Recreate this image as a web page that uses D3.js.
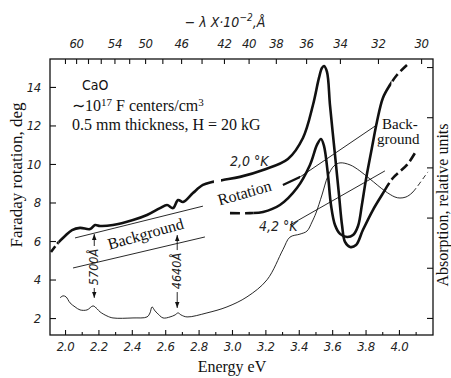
<!DOCTYPE html>
<html>
<head>
<meta charset="utf-8">
<script src="https://cdn.jsdelivr.net/npm/d3@7"></script>
<style>
  body { margin: 0; background: #fff; }
  svg { display: block; }
  .tick text { font-family: "DejaVu Sans Condensed", "DejaVu Sans", sans-serif; font-style: italic; font-size: 13px; fill: #222; letter-spacing: -0.3px; }
  .tick line { stroke: #111; stroke-width: 1.1; }
  .serif { font-family: "Liberation Serif", "Times New Roman", serif; fill: #111; }
  .ital { font-family: "DejaVu Sans Condensed", "DejaVu Sans", sans-serif; font-style: italic; fill: #222; }
</style>
</head>
<body>
<div id="chart"></div>
<script>
// Faraday rotation (deg) vs photon energy (eV)
const rot20K = [
  [1.916, 5.43], [1.958, 5.90], [2.000, 6.26], [2.042, 6.57], [2.090, 6.68],
  [2.150, 6.62], [2.180, 6.83], [2.210, 6.78], [2.287, 6.83], [2.407, 7.09],
  [2.491, 7.35], [2.569, 7.71], [2.611, 7.87], [2.647, 7.71], [2.677, 8.13],
  [2.707, 8.03], [2.766, 8.49], [2.826, 8.91], [2.880, 9.06], [2.946, 9.17],
  [3.048, 9.33], [3.186, 9.69], [3.335, 10.26], [3.425, 11.35], [3.485, 13.06],
  [3.521, 14.47], [3.539, 14.99], [3.551, 15.09], [3.569, 14.78], [3.587, 13.06],
  [3.617, 10.47], [3.641, 8.39], [3.659, 6.83], [3.677, 5.95], [3.707, 5.69],
  [3.743, 5.79], [3.784, 6.57], [3.844, 7.61], [3.898, 8.39], [3.964, 9.27],
  [4.048, 9.95], [4.096, 10.57]
];
const rot42K = [
  [2.988, 7.45], [3.108, 7.45], [3.186, 7.51], [3.287, 7.87], [3.389, 8.75],
  [3.467, 9.95], [3.509, 10.99], [3.533, 11.30], [3.551, 10.94], [3.575, 9.42],
  [3.593, 7.87], [3.617, 6.83], [3.647, 6.37], [3.689, 6.21], [3.725, 6.31],
  [3.755, 6.78], [3.778, 7.87], [3.802, 9.17], [3.838, 10.83], [3.868, 12.18],
  [3.904, 13.43], [3.946, 14.10], [3.988, 14.62], [4.048, 15.14]
];
// absorption (relative units) vs energy
const absorption = [
  [1.970, 0.40], [1.988, 0.44], [2.006, 0.42], [2.030, 0.30], [2.060, 0.22],
  [2.090, 0.16], [2.132, 0.16], [2.168, 0.24], [2.192, 0.18], [2.210, 0.12],
  [2.251, 0.04], [2.287, 0.00], [2.407, 0.00], [2.491, 0.02], [2.509, 0.10],
  [2.521, 0.22], [2.539, 0.14], [2.551, 0.10], [2.587, 0.00], [2.629, 0.02],
  [2.659, 0.06], [2.677, 0.10], [2.695, 0.06], [2.731, 0.02], [2.850, 0.10],
  [2.970, 0.22], [3.090, 0.42], [3.210, 0.76], [3.305, 1.36], [3.347, 1.61],
  [3.407, 1.67], [3.449, 1.73], [3.479, 1.91], [3.503, 2.09], [3.539, 2.45],
  [3.575, 2.83], [3.611, 3.03], [3.647, 3.09], [3.707, 3.05], [3.766, 2.93],
  [3.826, 2.77], [3.916, 2.53], [3.976, 2.41], [4.006, 2.39], [4.042, 2.41],
  [4.078, 2.49], [4.108, 2.61], [4.156, 2.83], [4.174, 2.91]
];
// background lines (rotation units)
const bgUpper = [[2.060, 6.16], [2.826, 7.81]];
const bgUpperRight = [[3.305, 8.91], [3.407, 9.32], [3.868, 12.03]];
const bgLower = [[2.048, 4.60], [2.838, 6.21]];
const bgLowerRight = [[3.347, 6.83], [3.916, 9.64]];

// marked wavelengths (Å): arrow tips in rotation / absorption units, label centre in rotation units
const marks = [
  { lambda: 5700, up: 6.36, down: 0.40, mid: 4.65 },
  { lambda: 4640, up: 6.31, down: 0.20, mid: 4.44 }
];

const energyTicks = [2.0, 2.2, 2.4, 2.6, 2.8, 3.0, 3.2, 3.4, 3.6, 3.8, 4.0];
const energyMinor = [2.1, 2.3, 2.5, 2.7, 2.9, 3.1, 3.3, 3.5, 3.7, 3.9, 4.1];
const rotationTicks = [2, 4, 6, 8, 10, 12, 14];
const absorptionTicks = [0, 1, 2, 3, 4, 5];
const lambdaTicks = [62, 60, 58, 56, 54, 52, 50, 48, 46, 44, 42, 40, 38, 36, 34, 32, 30];
const lambdaLabels = [60, 54, 50, 46, 42, 40, 38, 36, 34, 32, 30];

const HC = 12398; // eV·Å
const W = 451, H = 378;

const svg = d3.select("#chart").append("svg").attr("width", W).attr("height", H);

const x = d3.scaleLinear().domain([1.91, 4.204]).range([50, 433]);
const yL = d3.scaleLinear().domain([1.12, 15.45]).range([335, 59]);
const yR = d3.scaleLinear().domain([-0.34, 5.16]).range([335, 59]);

// axes
svg.append("g").attr("transform", "translate(0,335)")
  .call(d3.axisBottom(x).tickValues(energyTicks).tickSize(-5).tickPadding(7).tickFormat(d3.format(".1f")));
svg.append("g").attr("transform", "translate(0,335)")
  .call(d3.axisBottom(x).tickValues(energyMinor).tickSize(-3).tickFormat(""));
svg.append("g").attr("transform", "translate(50,0)")
  .call(d3.axisLeft(yL).tickValues(rotationTicks).tickSize(-6).tickPadding(9));
svg.append("g").attr("transform", "translate(433,0)")
  .call(d3.axisRight(yR).tickValues(absorptionTicks).tickSize(-6).tickFormat(""));
svg.append("g").attr("transform", "translate(0,59)")
  .call(d3.axisTop(x)
    .tickValues(lambdaTicks.map((l) => HC / (l * 100)))
    .tickSize(-5).tickPadding(11)
    .tickFormat((e) => {
      const l = Math.round(HC / e / 100);
      return lambdaLabels.includes(l) ? l : "";
    }));
svg.selectAll(".domain").remove();

svg.append("rect")
  .attr("x", 50).attr("y", 59).attr("width", 383).attr("height", 276)
  .attr("fill", "none").attr("stroke", "#111").attr("stroke-width", 1.3);

// curves
const defs = svg.append("defs");
let clipId = 0;
const drawCurve = (data, yScale, width, segments, curve) => {
  const gen = d3.line().x((d) => x(d[0])).y((d) => yScale(d[1])).curve(curve || d3.curveCatmullRom.alpha(0.5));
  segments.forEach(([e0, e1, dash]) => {
    const id = "clip" + clipId++;
    defs.append("clipPath").attr("id", id).append("rect")
      .attr("x", x(e0)).attr("y", 0).attr("width", x(e1) - x(e0)).attr("height", H);
    svg.append("path").datum(data)
      .attr("clip-path", `url(#${id})`)
      .attr("d", gen)
      .attr("fill", "none")
      .attr("stroke", "#111")
      .attr("stroke-width", width)
      .attr("stroke-linejoin", "round")
      .attr("stroke-dasharray", dash || null);
  });
};

drawCurve(absorption, yR, 0.9, [[1.9, 4.1, null], [4.1, 4.2, "5,3"]]);
drawCurve(bgUpper, yL, 0.9, [[1.9, 4.2, null]], d3.curveLinear);
drawCurve(bgLower, yL, 0.9, [[1.9, 4.2, null]], d3.curveLinear);
drawCurve(bgLowerRight, yL, 0.9, [[1.9, 4.2, null]], d3.curveLinear);
drawCurve(bgUpperRight, yL, 0.9, [[3.407, 4.2, null]], d3.curveLinear);
drawCurve(bgUpperRight, yL, 2.2, [[3.3, 3.407, null]], d3.curveLinear);
drawCurve(rot20K, yL, 2.6, [[1.9, 1.962, "7,3"], [1.962, 2.892, null], [2.934, 3.922, null], [3.922, 4.2, "9,4"]]);
drawCurve(rot42K, yL, 2.6, [[2.98, 3.13, "10,5"], [3.13, 3.955, null], [3.955, 4.2, "9,4"]]);

// wavelength marks with arrows
const marker = defs.append("marker").attr("id", "arrow")
  .attr("viewBox", "0 0 8 6").attr("refX", 8).attr("refY", 3)
  .attr("markerWidth", 6).attr("markerHeight", 5).attr("orient", "auto")
  .attr("markerUnits", "userSpaceOnUse");
marker.append("path").attr("d", "M0,0L8,3L0,6z").attr("fill", "#111");

marks.forEach((m) => {
  const mx = x(HC / m.lambda);
  const cy = yL(m.mid);
  svg.append("line").attr("x1", mx).attr("x2", mx)
    .attr("y1", cy - 21).attr("y2", yL(m.up))
    .attr("stroke", "#111").attr("stroke-width", 0.9).attr("marker-end", "url(#arrow)");
  svg.append("line").attr("x1", mx).attr("x2", mx)
    .attr("y1", cy + 21).attr("y2", yR(m.down))
    .attr("stroke", "#111").attr("stroke-width", 0.9).attr("marker-end", "url(#arrow)");
  svg.append("text").attr("class", "ital")
    .attr("transform", `translate(${mx + 4},${cy}) rotate(-90)`)
    .attr("text-anchor", "middle").attr("font-size", 12.5)
    .text(m.lambda + "Å");
});

// titles
svg.append("text").attr("class", "serif").attr("font-size", 16)
  .attr("x", 232).attr("y", 372).attr("text-anchor", "middle").text("Energy eV");
svg.append("text").attr("class", "serif").attr("font-size", 17)
  .attr("transform", "translate(22,175) rotate(-90)").attr("text-anchor", "middle")
  .text("Faraday rotation, deg");
svg.append("text").attr("class", "serif").attr("font-size", 16)
  .attr("transform", "translate(448,205) rotate(-90)").attr("text-anchor", "middle")
  .text("Absorption, relative units");

const topTitle = svg.append("text").attr("class", "ital").attr("font-size", 14)
  .attr("x", 225).attr("y", 27).attr("text-anchor", "middle");
topTitle.append("tspan").text("− λ X·10");
topTitle.append("tspan").attr("dy", -6).attr("font-size", 10).text("−2");
topTitle.append("tspan").attr("dy", 6).text(",Å");

// in-plot labels
svg.append("text").attr("font-family", "DejaVu Sans Condensed, DejaVu Sans, sans-serif")
  .attr("font-size", 14).attr("fill", "#111").attr("x", 82).attr("y", 90).text("CaO");
const conc = svg.append("text").attr("class", "serif").attr("font-size", 16).attr("x", 72).attr("y", 111);
conc.append("tspan").text("∼10");
conc.append("tspan").attr("dy", -5).attr("font-size", 11).text("17");
conc.append("tspan").attr("dy", 5).text(" F centers/cm");
conc.append("tspan").attr("dy", -5).attr("font-size", 11).text("3");
svg.append("text").attr("class", "serif").attr("font-size", 16)
  .attr("x", 72).attr("y", 130).text("0.5 mm thickness, H = 20 kG");

svg.append("text").attr("class", "ital").attr("font-size", 14)
  .attr("x", 230).attr("y", 166).text("2,0 °K");
svg.append("text").attr("class", "ital").attr("font-size", 14)
  .attr("x", 259).attr("y", 231).text("4,2 °K");
svg.append("text").attr("class", "serif").attr("font-size", 16)
  .attr("transform", "translate(246,198) rotate(-16)").attr("text-anchor", "middle").text("Rotation");
svg.append("text").attr("class", "serif").attr("font-size", 16)
  .attr("transform", "translate(147,239) rotate(-16)").attr("text-anchor", "middle").text("Background");
svg.append("text").attr("class", "serif").attr("font-size", 15)
  .attr("x", 382).attr("y", 129).text("Back-");
svg.append("text").attr("class", "serif").attr("font-size", 15)
  .attr("x", 377).attr("y", 144).text("ground");
</script>
</body>
</html>
